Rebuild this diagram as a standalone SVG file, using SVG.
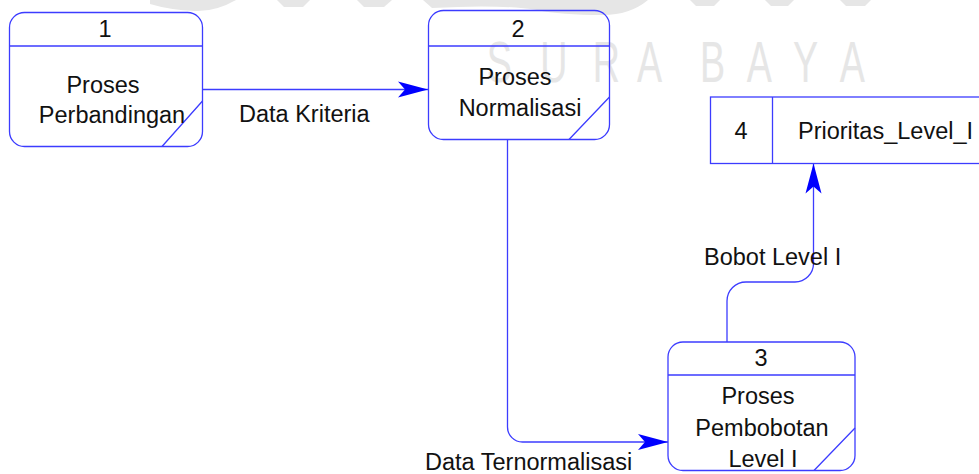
<svg xmlns="http://www.w3.org/2000/svg" width="979" height="474" viewBox="0 0 979 474">
<style>
.box{fill:none;stroke:#3c3cff;stroke-width:1.3}
.ln{fill:none;stroke:#3c3cff;stroke-width:1.3}
.t{font-family:"Liberation Sans",Arial,sans-serif;font-size:23.5px;fill:#111}
.c{text-anchor:middle}
.wm{font-family:"Liberation Sans",Arial,sans-serif;font-size:58px;fill:#e6e6e6}
.logo{fill:#e6e6e6}
</style>
<defs>
<marker id="arr" markerUnits="userSpaceOnUse" markerWidth="32" markerHeight="18" viewBox="0 -9 32 18" refX="30" refY="0" orient="auto">
<path d="M0,-8 L30,0 L0,8 L7,0 Z" fill="#0000ff"/>
</marker>
</defs>
<rect width="979" height="474" fill="#fff"/>
<g id="watermark">
<path class="logo" d="M150,0 H236 Q215,12 195,11 Q170,10 150,4 Z"/>
<path class="logo" d="M277,0 H310 L303,7 H284 Z"/>
<path class="logo" d="M357,0 H392 L384,7 H364 Z"/>
<path class="logo" d="M423,0 H648 Q630,15 603,15 Q560,15 537,10 Q500,4 432,8 Z"/>
<path class="logo" d="M690,0 H720 L714,6 H696 Z"/>
<path class="logo" d="M765,0 H794 L788,6 H771 Z"/>
<path class="logo" d="M840,0 H871 L865,6 H846 Z"/>
<g transform="translate(0,82) scale(0.65,1)">
<text class="wm" y="0"><tspan x="749">S</tspan><tspan x="831">U</tspan><tspan x="912">R</tspan><tspan x="980">A</tspan><tspan x="1077">B</tspan><tspan x="1149">A</tspan><tspan x="1220">Y</tspan><tspan x="1292">A</tspan></text>
</g>
</g>
<g id="connectors">
<path class="ln" d="M202.5,89.5 H428" marker-end="url(#arr)"/>
<path class="ln" d="M507.5,140 V427 A15,15 0 0 0 522.5,442 H668" marker-end="url(#arr)"/>
<path class="ln" d="M727,342 V301 A19,19 0 0 1 746,282 H795 A18.5,18.5 0 0 0 813.5,263.5 V163.5" marker-end="url(#arr)"/>
<text class="t" x="239" y="122">Data Kriteria</text>
<text class="t" x="425" y="469.5">Data Ternormalisasi</text>
<text class="t" x="704" y="265">Bobot Level I</text>
</g>
<g id="node1">
<rect class="box" x="9.5" y="12.5" width="193" height="134" rx="15"/>
<path class="ln" d="M9.5,46 H202.5 M202.5,101 L162,146.5"/>
<text class="t c" x="105" y="37">1</text>
<text class="t c" x="103" y="93">Proses</text>
<text class="t c" x="112" y="123">Perbandingan</text>
</g>
<g id="node2">
<rect class="box" x="428.5" y="10.5" width="181" height="129" rx="15"/>
<path class="ln" d="M428.5,46 H609.5 M609.5,97 L569,139.5"/>
<text class="t c" x="518" y="37">2</text>
<text class="t c" x="515" y="85">Proses</text>
<text class="t c" x="520" y="116">Normalisasi</text>
</g>
<g id="node3">
<rect class="box" x="668" y="342" width="187" height="128.5" rx="15"/>
<path class="ln" d="M668,375 H855 M855,428 L814,470.5"/>
<text class="t c" x="761" y="366">3</text>
<text class="t c" x="758" y="404">Proses</text>
<text class="t c" x="762" y="436">Pembobotan</text>
<text class="t c" x="763" y="467">Level I</text>
</g>
<g id="node4">
<rect class="box" x="710.5" y="97" width="280" height="66.5"/>
<path class="ln" d="M772.5,97 V163.5"/>
<text class="t c" x="741" y="139">4</text>
<text class="t" x="798" y="139">Prioritas_Level_I</text>
</g>
</svg>
